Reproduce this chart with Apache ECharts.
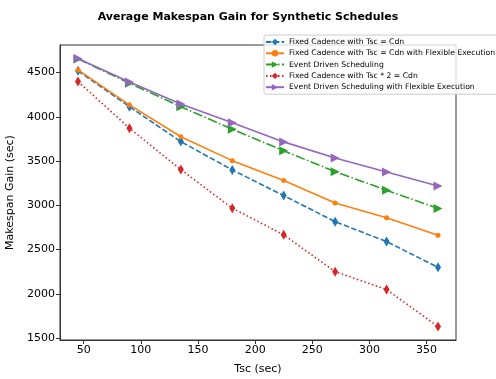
<!DOCTYPE html>
<html>
<head>
<meta charset="utf-8">
<script src="https://cdn.jsdelivr.net/npm/echarts@6/dist/echarts.min.js"></script>
<style>
  html, body { margin: 0; padding: 0; background: #fff; }
  #chart { width: 496px; height: 379px; }
</style>
</head>
<body>
<div id="chart"></div>
<script>
// Tsc values (x axis)
const tsc = [45, 90, 135, 180, 225, 270, 315, 360];

// Makespan gain per strategy
const fixedCdn = [4520, 4115, 3720, 3400, 3110, 2815, 2590, 2300];
const fixedCdnFlex = [4530, 4135, 3775, 3505, 3280, 3027, 2860, 2662];
const eventDriven = [4655, 4380, 4115, 3860, 3616, 3380, 3170, 2965];
const fixedDouble = [4400, 3871, 3405, 2967, 2667, 2250, 2048, 1630];
const eventDrivenFlex = [4660, 4395, 4145, 3933, 3717, 3535, 3376, 3219];

const xTicks = [50, 100, 150, 200, 250, 300, 350];
const yTicks = [1500, 2000, 2500, 3000, 3500, 4000, 4500];

const pairs = ys => tsc.map((x, i) => [x, ys[i]]);

const chart = echarts.init(document.getElementById('chart'));
const font = 'DejaVu Sans';

const option = {
  animation: false,
  textStyle: { fontFamily: font },
  title: {
    text: 'Average Makespan Gain for Synthetic Schedules',
    left: 'center',
    top: 7,
    textStyle: { fontSize: 11, fontWeight: 'bold', color: '#000', fontFamily: font },
  },
  legend: {
    orient: 'vertical',
    left: 264,
    top: 35,
    itemWidth: 18,
    itemHeight: 8,
    itemGap: 3.3,
    padding: [3, 4, 3, 1],
    backgroundColor: 'rgba(255,255,255,0.8)',
    borderColor: '#ccc',
    borderWidth: 1,
    borderRadius: 2,
    textStyle: { fontSize: 7.7, color: '#000', fontFamily: font },
  },
  grid: {
    left: 60,
    right: 40,
    top: 45,
    bottom: 39,
    outerBoundsMode: 'none',
    containLabel: false,
    show: true,
    borderColor: '#333',
    borderWidth: 1,
    backgroundColor: 'transparent',
  },
  xAxis: {
    type: 'value',
    min: 29.25,
    max: 375.75,
    name: 'Tsc (sec)',
    nameLocation: 'middle',
    nameGap: 24,
    nameTextStyle: { fontSize: 11, color: '#000' },
    axisLine: { show: true, onZero: false, lineStyle: { color: '#333' } },
    axisTick: { show: true, inside: false, length: 4, customValues: xTicks, lineStyle: { color: '#333' } },
    axisLabel: { customValues: xTicks, fontSize: 11, color: '#000', margin: 5, formatter: v => String(v) },
    splitLine: { show: false },
  },
  yAxis: {
    type: 'value',
    min: 1478,
    max: 4812,
    name: 'Makespan Gain (sec)',
    nameLocation: 'middle',
    nameGap: 40,
    nameTextStyle: { fontSize: 11, color: '#000' },
    axisLine: { show: true, onZero: false, lineStyle: { color: '#333' } },
    axisTick: { show: true, inside: false, length: 4, customValues: yTicks, lineStyle: { color: '#333' } },
    axisLabel: { customValues: yTicks, fontSize: 11, color: '#000', margin: 5, formatter: v => String(v) },
    splitLine: { show: false },
  },
  series: [
    {
      name: 'Fixed Cadence with Tsc = Cdn',
      type: 'line',
      data: pairs(fixedCdn),
      symbol: 'diamond',
      symbolSize: [6, 10],
      color: '#1f77b4',
      lineStyle: { width: 1.6, type: [5.5, 2.4] },
      z: 2,
    },
    {
      name: 'Fixed Cadence with Tsc = Cdn with Flexible Execution',
      type: 'line',
      data: pairs(fixedCdnFlex),
      symbol: 'circle',
      symbolSize: 5,
      color: '#ff7f0e',
      lineStyle: { width: 1.6, type: 'solid' },
      z: 3,
    },
    {
      name: 'Event Driven Scheduling',
      type: 'line',
      data: pairs(eventDriven),
      symbol: 'triangle',
      symbolRotate: -90,
      symbolSize: 9,
      color: '#2ca02c',
      lineStyle: { width: 1.6, type: [9.6, 2.4, 1.5, 2.4] },
      z: 4,
    },
    {
      name: 'Fixed Cadence with Tsc * 2 = Cdn',
      type: 'line',
      data: pairs(fixedDouble),
      symbol: 'diamond',
      symbolSize: [6, 10],
      color: '#d62728',
      lineStyle: { width: 1.6, type: [1.5, 2.5] },
      z: 5,
    },
    {
      name: 'Event Driven Scheduling with Flexible Execution',
      type: 'line',
      data: pairs(eventDrivenFlex),
      symbol: 'triangle',
      symbolRotate: -90,
      symbolSize: 9,
      color: '#9467bd',
      lineStyle: { width: 1.6, type: 'solid' },
      z: 6,
    },
  ],
};

chart.setOption(option);
</script>
</body>
</html>
